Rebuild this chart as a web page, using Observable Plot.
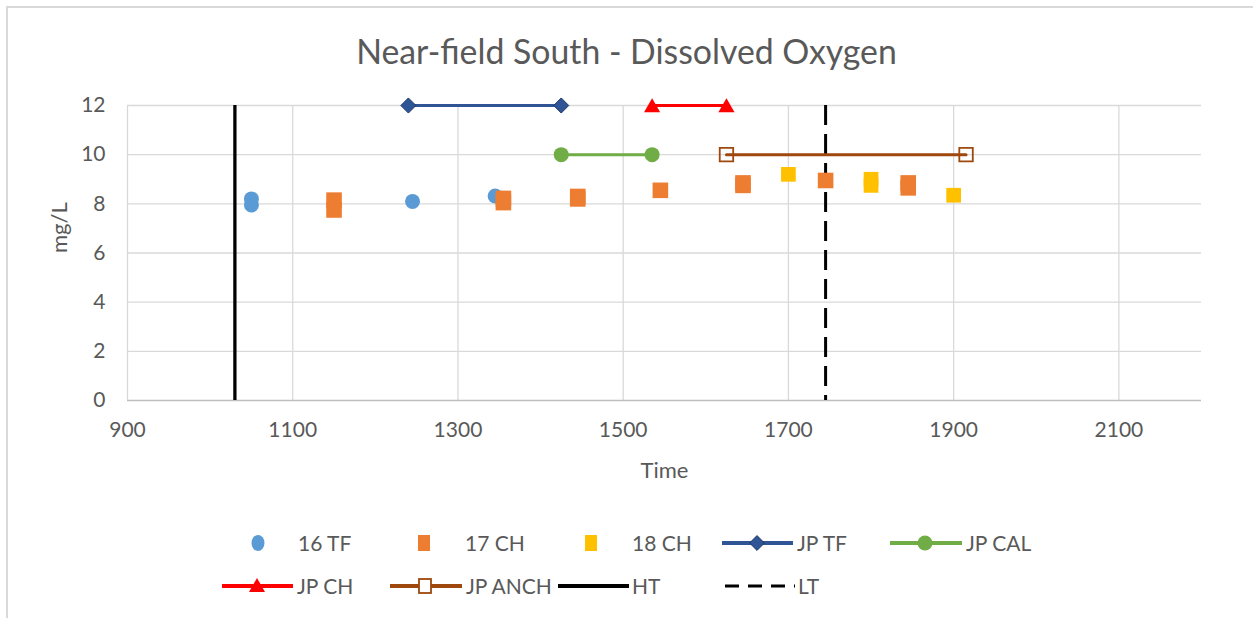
<!DOCTYPE html>
<html><head><meta charset="utf-8">
<script src="https://cdn.jsdelivr.net/npm/d3@7"></script>
<script src="https://cdn.jsdelivr.net/npm/@observablehq/plot@0.6"></script>
<style>
html,body{margin:0;padding:0;background:#fff;}
#wrap{position:relative;width:1253px;height:618px;overflow:hidden;font-family:Lato,sans-serif;color:#595959;}
#frame{position:absolute;left:6px;top:6px;width:1300px;height:700px;border-left:2px solid #d9d9d9;border-top:2px solid #d9d9d9;}
#title{position:absolute;left:0;width:1253px;top:32px;text-align:center;font-size:33.8px;line-height:38px;white-space:nowrap;}
#chart{position:absolute;left:0;top:0;}
#legend{position:absolute;left:0;top:500px;}
</style></head><body><div id="wrap"><div id="frame"></div><div id="chart"></div><div id="title">Near-field South - Dissolved Oxygen</div><div id="legend"></div></div>
<script>
// ---- data ----
const xTicks = [900, 1100, 1300, 1500, 1700, 1900, 2100];
const yTicks = [0, 2, 4, 6, 8, 10, 12];

const tf16Time = [1050, 1050, 1245, 1345];
const tf16DO   = [8.2, 7.95, 8.1, 8.32];

const ch17Time = [1150, 1150, 1355, 1355, 1445, 1445, 1545, 1645, 1645, 1745, 1845, 1845];
const ch17DO   = [8.15, 7.75, 8.22, 8.05, 8.3, 8.2, 8.55, 8.85, 8.75, 8.95, 8.85, 8.65];

const ch18Time = [1700, 1800, 1800, 1900];
const ch18DO   = [9.2, 9.0, 8.75, 8.35];

const jpTFTime   = [1240, 1425]; const jpTFDO   = [12, 12];
const jpCALTime  = [1425, 1535]; const jpCALDO  = [10, 10];
const jpCHTime   = [1535, 1625]; const jpCHDO   = [12, 12];
const jpANCHTime = [1625, 1915]; const jpANCHDO = [10, 10];

const htTime = [1030];
const ltTime = [1745];

const legendLabels = ["16 TF", "17 CH", "18 CH", "JP TF", "JP CAL", "JP CH", "JP ANCH", "HT", "LT"];

// ---- build tables ----
const tbl = (ts, vs) => ts.map((t, i) => ({t, v: vs[i]}));
const tf16 = tbl(tf16Time, tf16DO);
const ch17 = tbl(ch17Time, ch17DO);
const ch18 = tbl(ch18Time, ch18DO);
const jpTF = tbl(jpTFTime, jpTFDO);
const jpCAL = tbl(jpCALTime, jpCALDO);
const jpCH = tbl(jpCHTime, jpCHDO);
const jpANCH = tbl(jpANCHTime, jpANCHDO);

const C = {tf16:"#5b9bd5", ch17:"#ed7d31", ch18:"#ffc000", jpTF:"#2f5597", jpCAL:"#70ad47", jpCH:"#ff0000", jpANCH:"#9e480e"};

const plot = Plot.plot({
  width: 1253, height: 500,
  marginTop: 105, marginBottom: 100, marginLeft: 127, marginRight: 52,
  x: {domain: [900, 2200]},
  y: {domain: [0, 12]},
  style: {fontFamily: "Lato, sans-serif", color: "#595959", background: "transparent", overflow: "visible"},
  marks: [
    Plot.ruleX(xTicks, {stroke: "#d9d9d9", strokeWidth: 1.3}),
    Plot.ruleY(yTicks.filter(d => d > 0), {stroke: "#d9d9d9", strokeWidth: 1.3}),
    Plot.ruleY([0], {stroke: "#bfbfbf", strokeWidth: 1.3}),
    Plot.axisX({ticks: xTicks, tickFormat: d => String(d), tickSize: 0, tickPadding: 22, fontSize: 21, label: null}),
    Plot.axisY({ticks: yTicks, tickFormat: d => String(d), tickSize: 0, tickPadding: 22, fontSize: 21, label: null}),
    Plot.text(["Time"], {frameAnchor: "bottom", dy: 77, fontSize: 22, fill: "#595959"}),
    Plot.text(["mg/L"], {frameAnchor: "left", dx: -68, rotate: -90, fontSize: 22, fill: "#595959"}),
    Plot.ruleX(htTime, {stroke: "black", strokeWidth: 3.3}),
    Plot.ruleX(ltTime, {stroke: "black", strokeWidth: 3, strokeDasharray: "20,9"}),
    Plot.line(jpTF, {x: "t", y: "v", stroke: C.jpTF, strokeWidth: 3}),
    Plot.dot(jpTF, {x: "t", y: "v", symbol: "diamond2", r: 6.8, fill: C.jpTF, stroke: "#203864", strokeWidth: 1}),
    Plot.line(jpCAL, {x: "t", y: "v", stroke: C.jpCAL, strokeWidth: 3}),
    Plot.dot(jpCAL, {x: "t", y: "v", symbol: "circle", r: 7.5, fill: C.jpCAL}),
    Plot.line(jpCH, {x: "t", y: "v", stroke: C.jpCH, strokeWidth: 3}),
    Plot.dot(jpCH, {x: "t", y: "v", symbol: "triangle", r: 6, dy: 2, fill: C.jpCH}),
    Plot.line(jpANCH, {x: "t", y: "v", stroke: C.jpANCH, strokeWidth: 3}),
    Plot.dot(jpANCH, {x: "t", y: "v", symbol: "square", r: 7.6, fill: "none", stroke: C.jpANCH, strokeWidth: 1.8}),
    Plot.dot(tf16, {x: "t", y: "v", symbol: "circle", r: 7.5, fill: C.tf16}),
    Plot.dot(ch17, {x: "t", y: "v", symbol: "square", r: 8.8, fill: C.ch17}),
    Plot.dot(ch18, {x: "t", y: "v", symbol: "square", r: 8.3, fill: C.ch18})
  ]
});
document.getElementById("chart").appendChild(plot);

// ---- legend ----
const lg = d3.select("#legend").append("svg").attr("width", 1253).attr("height", 118)
  .style("font-family", "Lato, sans-serif").style("overflow", "visible");
const rows = [43, 86];
function label(x, y, t) {
  lg.append("text").attr("x", x).attr("y", y).attr("dy", "0.36em").attr("fill", "#595959")
    .attr("font-size", 21).text(t);
}
function lineSw(x1, x2, y, color, w, dash) {
  const l = lg.append("line").attr("x1", x1).attr("x2", x2).attr("y1", y).attr("y2", y)
    .attr("stroke", color).attr("stroke-width", w);
  if (dash) l.attr("stroke-dasharray", dash);
}
const y1 = rows[0], y2 = rows[1];
// 16 TF
lg.append("ellipse").attr("cx", 258).attr("cy", y1).attr("rx", 6.5).attr("ry", 8).attr("fill", C.tf16);
label(298, y1, legendLabels[0]);
// 17 CH
lg.append("rect").attr("x", 418).attr("y", y1 - 8).attr("width", 12).attr("height", 16).attr("fill", C.ch17);
label(465, y1, legendLabels[1]);
// 18 CH
lg.append("rect").attr("x", 585).attr("y", y1 - 8).attr("width", 12).attr("height", 16).attr("fill", C.ch18);
label(632, y1, legendLabels[2]);
// JP TF
lineSw(722, 793, y1, C.jpTF, 4);
lg.append("path").attr("d", d3.symbol(d3.symbolDiamond2, 140)()).attr("transform", `translate(757,${y1})`)
  .attr("fill", C.jpTF).attr("stroke", "#203864");
label(797, y1, legendLabels[3]);
// JP CAL
lineSw(890, 962, y1, C.jpCAL, 4);
lg.append("circle").attr("cx", 925).attr("cy", y1).attr("r", 7.5).attr("fill", C.jpCAL);
label(966, y1, legendLabels[4]);
// JP CH
lineSw(222, 293, y2, C.jpCH, 4);
lg.append("path").attr("d", "M0,-8L8,6L-8,6Z").attr("transform", `translate(257,${y2})`).attr("fill", C.jpCH);
label(297, y2, legendLabels[5]);
// JP ANCH
lineSw(390, 462, y2, C.jpANCH, 4);
lg.append("rect").attr("x", 419).attr("y", y2 - 7).attr("width", 12).attr("height", 14)
  .attr("fill", "white").attr("stroke", C.jpANCH).attr("stroke-width", 1.8);
label(466, y2, legendLabels[6]);
// HT
lineSw(558, 629, y2, "black", 4);
label(632, y2, legendLabels[7]);
// LT
lineSw(725, 795, y2, "black", 3, "14,9");
label(798, y2, legendLabels[8]);
</script>
</body></html>
